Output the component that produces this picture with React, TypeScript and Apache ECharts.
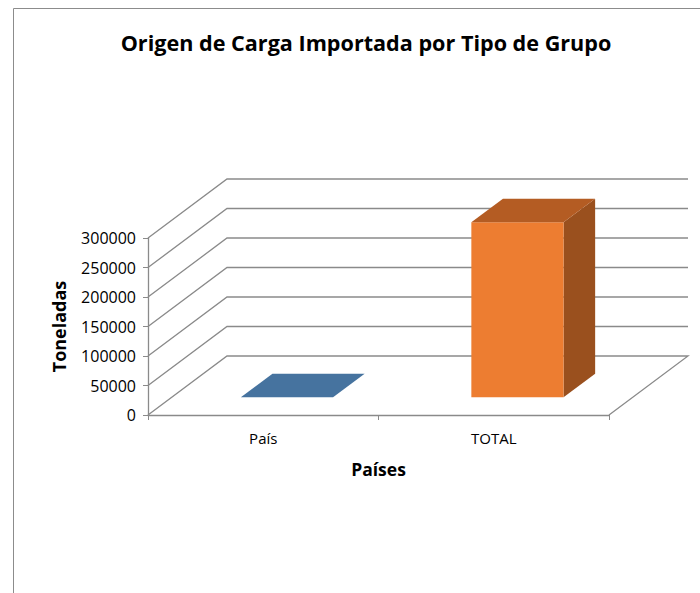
import React, { useEffect, useRef } from "react";
import * as echarts from "echarts";

const categories: string[] = ["País", "TOTAL"];
const toneladas: number[] = [0, 296500];
const yTicks: number[] = [0, 50000, 100000, 150000, 200000, 250000, 300000];

const FRONT_COLORS = ["#4F81BD", "#ED7D31"];
const TOP_COLORS = ["#46739F", "#B45C23"];
const SIDE_COLORS = ["#385D86", "#9A501E"];

const DEPTH_X = 79;
const DEPTH_Y = 59;
const FONT = "'Open Sans', 'Noto Sans', sans-serif";

export default function App() {
  const ref = useRef<HTMLDivElement>(null);
  useEffect(() => {
    if (!ref.current) return;
    const chart = echarts.init(ref.current, undefined, { renderer: "svg" });

    const wallRender = (params: any, api: any) => {
      const v = api.value(1);
      const p = api.coord([0, v]);
      const bw = api.size([1, 0])[0];
      const leftX = p[0] - bw / 2;
      const rightX = leftX + bw * categories.length;
      const y = p[1];
      const pts: number[][] = [
        [leftX, y],
        [leftX + DEPTH_X, y - DEPTH_Y],
        [rightX + DEPTH_X, y - DEPTH_Y],
      ];
      if (v === 0) pts.push([rightX, y]);
      return {
        type: "polyline",
        shape: { points: pts },
        style: { stroke: "#8a8a8a", lineWidth: 1.3, fill: "none" },
      };
    };

    const barRender = (params: any, api: any) => {
      const i = api.value(0);
      const v = api.value(1);
      const top = api.coord([i, v]);
      const base = api.coord([i, 0]);
      const bw = api.size([1, 0])[0];
      const barW = bw * 0.4;
      const f0 = 0.3;
      const f1 = 0.7;
      const x1 = top[0] - barW / 2 + f0 * DEPTH_X;
      const x2 = x1 + barW;
      const yTop = top[1] - f0 * DEPTH_Y;
      const yBot = base[1] - f0 * DEPTH_Y;
      const dx = (f1 - f0) * DEPTH_X;
      const dy = (f1 - f0) * DEPTH_Y;
      const children: any[] = [];
      if (yBot - yTop > 0.5) {
        children.push({
          type: "polygon",
          shape: { points: [[x2, yTop], [x2 + dx, yTop - dy], [x2 + dx, yBot - dy], [x2, yBot]] },
          style: { fill: SIDE_COLORS[i] },
        });
        children.push({
          type: "rect",
          shape: { x: x1, y: yTop, width: barW, height: yBot - yTop },
          style: { fill: FRONT_COLORS[i] },
        });
      }
      children.push({
        type: "polygon",
        shape: { points: [[x1, yTop], [x2, yTop], [x2 + dx, yTop - dy], [x1 + dx, yTop - dy]] },
        style: { fill: TOP_COLORS[i] },
      });
      return { type: "group", children };
    };

    chart.setOption({
      animation: false,
      backgroundColor: "#ffffff",
      title: {
        text: "Origen de Carga Importada por Tipo de Grupo",
        left: 361,
        top: 26,
        textAlign: "center",
        textStyle: { fontFamily: FONT, fontWeight: "bold", fontSize: 21.6, color: "#000" },
      },
      graphic: [
        {
          type: "rect",
          shape: { x: 13.5, y: 8.5, width: 720, height: 620 },
          style: { fill: "none", stroke: "#8c8c8c", lineWidth: 1 },
          silent: true,
        },
      ],
      grid: { left: 148, top: 238, width: 461, height: 177, containLabel: false },
      xAxis: {
        type: "category",
        data: categories,
        boundaryGap: true,
        name: "Países",
        nameLocation: "middle",
        nameGap: 45,
        nameTextStyle: { fontFamily: FONT, fontWeight: "bold", fontSize: 17.5, color: "#000" },
        axisLine: { lineStyle: { color: "#8a8a8a", width: 1.3 } },
        axisTick: { show: true, length: 5, lineStyle: { color: "#8a8a8a" } },
        axisLabel: { fontFamily: FONT, fontSize: 15, color: "#000", margin: 15 },
        splitLine: { show: false },
      },
      yAxis: {
        type: "value",
        min: 0,
        max: 300000,
        interval: 50000,
        name: "Toneladas",
        nameLocation: "middle",
        nameRotate: 90,
        nameGap: 80,
        nameTextStyle: { fontFamily: FONT, fontWeight: "bold", fontSize: 18, color: "#000" },
        axisLine: { show: true, lineStyle: { color: "#8a8a8a", width: 1.3 } },
        axisTick: { show: true, length: 5, lineStyle: { color: "#8a8a8a" } },
        axisLabel: {
          fontFamily: FONT,
          fontSize: 16,
          color: "#000",
          margin: 12,
          formatter: (v: number) => String(v),
        },
        splitLine: { show: false },
      },
      series: [
        {
          type: "custom",
          name: "walls",
          renderItem: wallRender,
          data: yTicks.map((v) => [0, v]),
          clip: false,
          silent: true,
          z: 1,
        },
        {
          type: "custom",
          name: "Toneladas",
          renderItem: barRender,
          data: toneladas.map((v, i) => [i, v]),
          clip: false,
          z: 5,
        },
      ],
    });
    return () => chart.dispose();
  }, []);
  return (
    <div
      ref={ref}
      style={{ position: "fixed", left: 0, top: 0, width: 700, height: 593 }}
    />
  );
}
